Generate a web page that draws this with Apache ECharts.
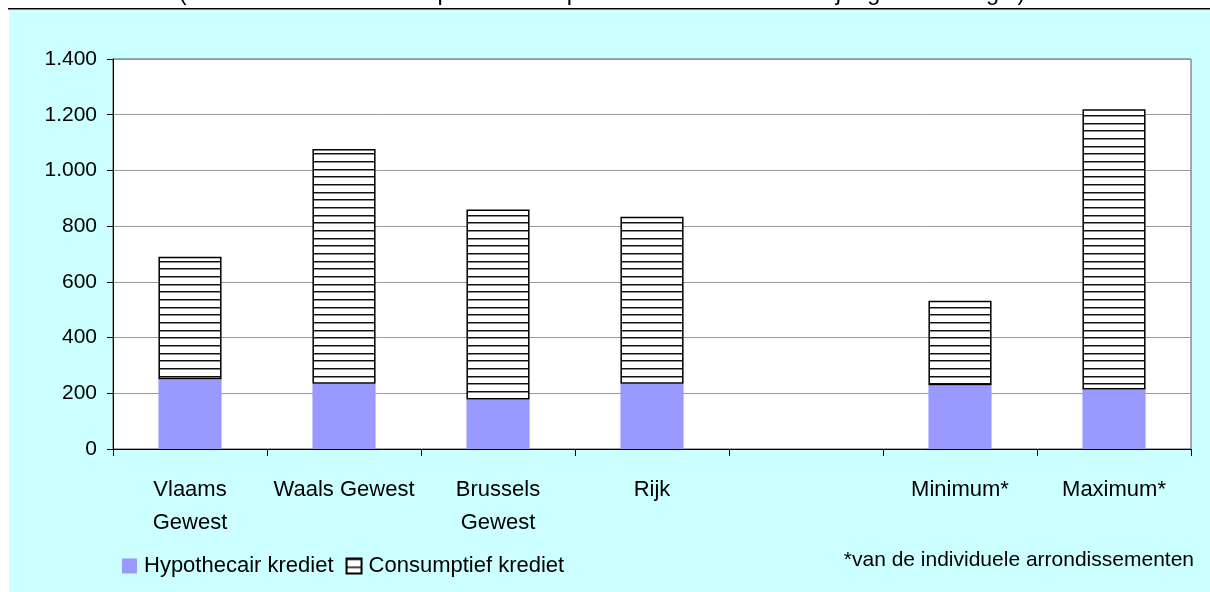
<!DOCTYPE html>
<html>
<head>
<meta charset="utf-8">
<script src="https://cdn.jsdelivr.net/npm/echarts@6/dist/echarts.min.js"></script>
<style>
  html, body { margin: 0; padding: 0; background: #ffffff; }
  #chart { width: 1210px; height: 592px; }
</style>
</head>
<body>
<div id="chart"></div>
<script>
// Overeenkomsten per duizend meerderjarigen, per gewest
const categories = ['Vlaams\nGewest', 'Waals Gewest', 'Brussels\nGewest', 'Rijk', '', 'Minimum*', 'Maximum*'];
const hypothecair = [250, 234, 178, 234, null, 229, 214];
const consumptief = [440, 843, 682, 600, null, 303, 1006];
const yTickLabels = ['0', '200', '400', '600', '800', '1.000', '1.200', '1.400'];
const seriesNames = ['Hypothecair krediet', 'Consumptief krediet'];
const titleText = '(aantal overeenkomsten per duizend personen van de meerderjarige bevolking**)';
const footnote = '*van de individuele arrondissementen';

const FONT = '"Liberation Sans", Arial, sans-serif';

// horizontal line hatching for the consumer credit bars
function hatchPattern() {
  const c = document.createElement('canvas');
  c.width = 8; c.height = 23;
  const ctx = c.getContext('2d');
  ctx.fillStyle = '#ffffff';
  ctx.fillRect(0, 0, 8, 23);
  for (let k = 0; k < 3; k++) {
    const y = Math.round(k * 23 / 3);
    ctx.fillStyle = '#111111';
    ctx.fillRect(0, y, 8, 1);
    ctx.fillStyle = '#8a8a8a';
    ctx.fillRect(0, y + 1, 8, 1);
  }
  return c;
}

const chart = echarts.init(document.getElementById('chart'), null, { renderer: 'canvas' });

chart.setOption({
  backgroundColor: '#ffffff',
  animation: false,
  graphic: [
    { type: 'rect', z: -10, shape: { x: 9, y: 10, width: 1201, height: 582 }, style: { fill: '#ccffff' } },
    { type: 'rect', z: -9, shape: { x: 8, y: 8, width: 1202, height: 1.5 }, style: { fill: '#000000' } },
    { type: 'text', z: 5, x: 602, y: -18.5,
      style: { text: titleText, font: '23.5px ' + FONT, fill: '#000', align: 'center', verticalAlign: 'top' } },
    { type: 'text', z: 5, x: 1194, y: 550,
      style: { text: footnote, font: '21px ' + FONT, fill: '#000', align: 'right', verticalAlign: 'top' } }
  ],
  grid: {
    left: 113, right: 19, top: 59, bottom: 143,
    show: true, backgroundColor: '#ffffff', borderColor: '#555555', borderWidth: 1,
    containLabel: false
  },
  legend: {
    left: 122, top: 555, padding: 0,
    icon: 'rect',
    itemWidth: 15, itemHeight: 15, itemGap: 12,
    data: seriesNames,
    textStyle: { fontFamily: FONT, fontSize: 22, color: '#000', padding: [0, 0, 0, 2] }
  },
  xAxis: {
    type: 'category',
    data: categories,
    axisLine: { lineStyle: { color: '#000', width: 1 } },
    axisTick: { show: true, length: 7, lineStyle: { color: '#000' } },
    axisLabel: {
      interval: 0, margin: 24, color: '#000',
      fontFamily: FONT, fontSize: 22, lineHeight: 33
    },
    splitLine: { show: false }
  },
  yAxis: {
    type: 'value',
    min: 0, max: 1400, interval: 200,
    axisLine: { show: true, lineStyle: { color: '#000', width: 1 } },
    axisTick: { show: true, length: 6, lineStyle: { color: '#000' } },
    axisLabel: {
      margin: 16, color: '#000', fontFamily: FONT, fontSize: 21,
      formatter: v => yTickLabels[Math.round(v / 200)]
    },
    splitLine: { show: true, lineStyle: { color: '#999999', width: 1 } }
  },
  series: [
    {
      name: seriesNames[0], type: 'bar', stack: 'totaal',
      data: hypothecair, barWidth: '41%',
      itemStyle: { color: '#9999ff' }
    },
    {
      name: seriesNames[1], type: 'bar', stack: 'totaal',
      data: consumptief, barWidth: '41%',
      itemStyle: {
        color: { image: hatchPattern(), repeat: 'repeat' },
        borderColor: '#000', borderWidth: 1.5
      }
    }
  ]
});
</script>
</body>
</html>
